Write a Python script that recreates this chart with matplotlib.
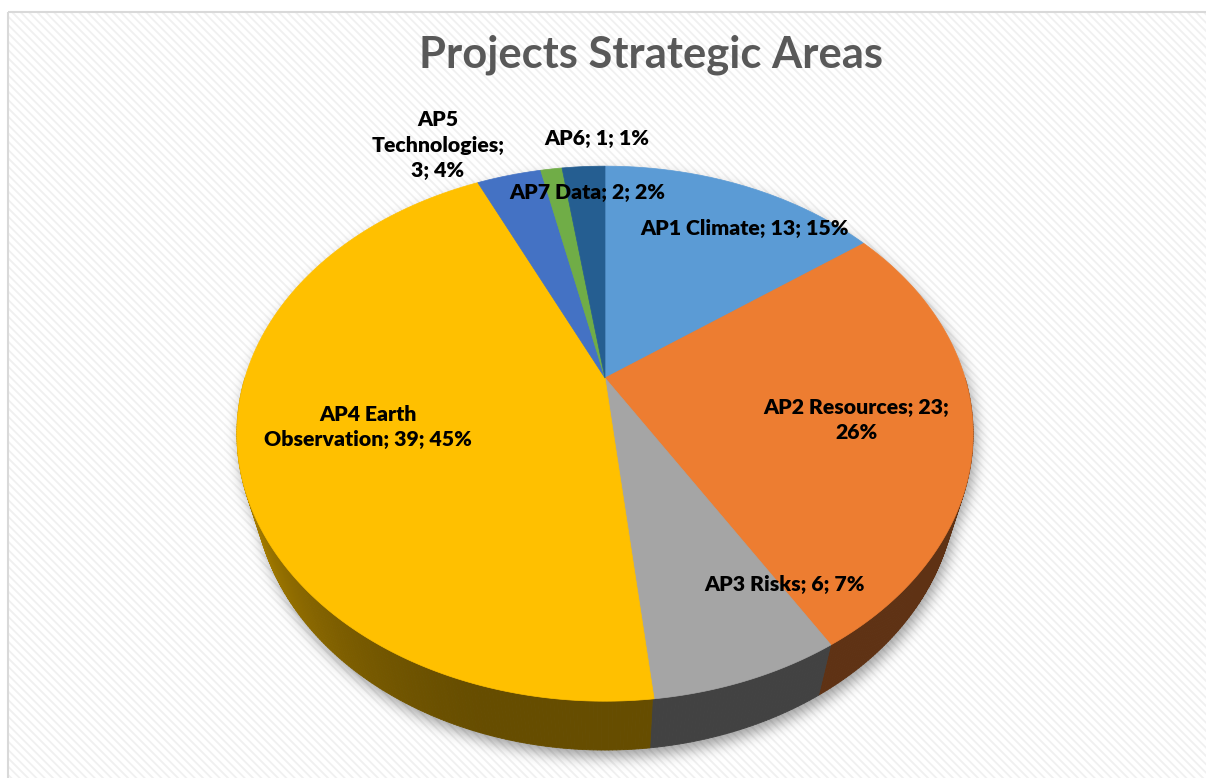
import textwrap

import numpy as np
import matplotlib
matplotlib.use('Agg')
import matplotlib.pyplot as plt
from matplotlib.patches import Polygon, Rectangle
from matplotlib.path import Path
from matplotlib.collections import PolyCollection
from matplotlib.colors import to_rgb

# data
categories = ['AP1 Climate', 'AP2 Resources', 'AP3 Risks', 'AP4 Earth Observation',
              'AP5 Technologies', 'AP6', 'AP7 Data']
values = [13, 23, 6, 39, 3, 1, 2]
percents = [15, 26, 7, 45, 4, 1, 2]
colors = ['#5B9BD5', '#ED7D31', '#A5A5A5', '#FFC000', '#4472C4', '#70AD47', '#255E91']

# layout (pixel coords)
W, HGT = 1206, 778
CX, CY = 605, 378          # pie apex on screen
FOC, DIST = 1217.0, 3.38   # camera focal / distance (disc radius units)
ELEV = np.radians(45.3)
DEPTH = 0.221              # pie thickness
wrap_width = [None, 18, None, 20, 13, None, None]
label_xy = [(745, 228), (856, 420), (785, 585), (368, 427), (438, 145), (597, 138), (587, 192)]

plt.rcParams['hatch.linewidth'] = 1.3
FONT = ['Lato', 'DejaVu Sans']


def project(X, Y, Z):
    """Perspective projection of disc coords -> pixel coords"""
    s, c = np.sin(ELEV), np.cos(ELEV)
    d = DIST + Y * c - Z * s
    sx = FOC * X / d
    sy = FOC * (Y * s + Z * c) / d
    return np.column_stack([CX + sx, CY - sy])


def ring(theta_deg, z):
    t = np.radians(theta_deg)
    return project(np.sin(t), np.cos(t), np.full_like(t, z))


fig = plt.figure(figsize=(W / 100, HGT / 100), dpi=100)
ax = fig.add_axes([0, 0, 1, 1])
ax.set_xlim(0, W)
ax.set_ylim(HGT, 0)
ax.axis('off')

# chart area background with fine diagonal stripes
ax.add_patch(Rectangle((7.5, 11.5), 1400, 1000, facecolor='white', edgecolor='#F0F0F0',
                       lw=0, hatch='\\\\\\\\', zorder=0))
ax.add_patch(Rectangle((7.5, 11.5), 1400, 1000, fill=False, edgecolor='#D9D9D9',
                       lw=1.5, zorder=0.5))

# soft shadow under the pie
full = np.linspace(0, 360, 721)
front = np.linspace(90, 270, 361)
top_ring = ring(full, 0.0)
bot_ring = ring(full, -DEPTH)
wall_poly = np.vstack([ring(front, 0.0), ring(front[::-1], -DEPTH)])
yy, xx = np.mgrid[0:HGT, 0:W] + 0.5
pts = np.column_stack([xx.ravel() - 3, yy.ravel() - 7])
mask = (Path(top_ring).contains_points(pts) | Path(bot_ring).contains_points(pts)
        | Path(wall_poly).contains_points(pts)).reshape(HGT, W).astype(float)
k = np.exp(-0.5 * (np.arange(-24, 25) / 7.0) ** 2)
k /= k.sum()
blur = np.apply_along_axis(lambda r: np.convolve(r, k, mode='same'), 1, mask)
blur = np.apply_along_axis(lambda r: np.convolve(r, k, mode='same'), 0, blur)
shadow = np.zeros((HGT, W, 4))
shadow[..., 3] = 0.38 * blur
ax.imshow(shadow, extent=(0, W, HGT, 0), origin='upper', zorder=1, interpolation='bilinear')

# slice angles (clockwise from 12 o'clock)
total = float(sum(values))
bounds = np.concatenate([[0], np.cumsum(values)]) / total * 360.0


def slice_color(theta):
    idx = np.searchsorted(bounds, theta, side='right') - 1
    return colors[min(max(idx, 0), len(colors) - 1)]


# side walls, split in thin strips for the shading gradient
step = 0.5
strips, fcs = [], []
thetas = np.arange(90, 270, step)
order = np.argsort(-np.cos(np.radians(thetas + step / 2)))
for i in order:
    a = thetas[i]
    b = a + step
    tt = np.array([a, b])
    quad = np.vstack([ring(tt, 0.0), ring(tt[::-1], -DEPTH)])
    m = a + step / 2
    shade = 0.40 + 0.36 * np.clip((m - 195) / 63.0, 0, 1) ** 1.4
    rgb = np.array(to_rgb(slice_color(m))) * shade
    strips.append(quad)
    fcs.append(rgb)
ax.add_collection(PolyCollection(strips, facecolors=fcs, edgecolors=fcs, linewidths=0.6,
                                 zorder=2))

# top faces
apex = project(np.array([0.0]), np.array([0.0]), np.array([0.0]))
for i, col in enumerate(colors):
    a, b = bounds[i], bounds[i + 1]
    n = max(3, int((b - a) / 0.5))
    arc = ring(np.linspace(a, b, n), 0.0)
    ax.add_patch(Polygon(np.vstack([apex, arc]), closed=True, facecolor=col,
                         edgecolor=col, lw=0.5, zorder=3))

# data labels
for i, name in enumerate(categories):
    txt = f'{name}; {values[i]}; {percents[i]}%'
    if wrap_width[i]:
        txt = textwrap.fill(txt, wrap_width[i])
    x, y = label_xy[i]
    ax.text(x, y, txt, ha='center', va='center', fontsize=15.3, fontweight='heavy',
            color='black', family=FONT, linespacing=1.4, zorder=5)

ax.text(651, 67, 'Projects Strategic Areas', ha='center', va='baseline', fontsize=31.3,
        fontweight='bold', color='#595959', family=FONT, zorder=5)

fig.savefig('out.png', dpi=100)
